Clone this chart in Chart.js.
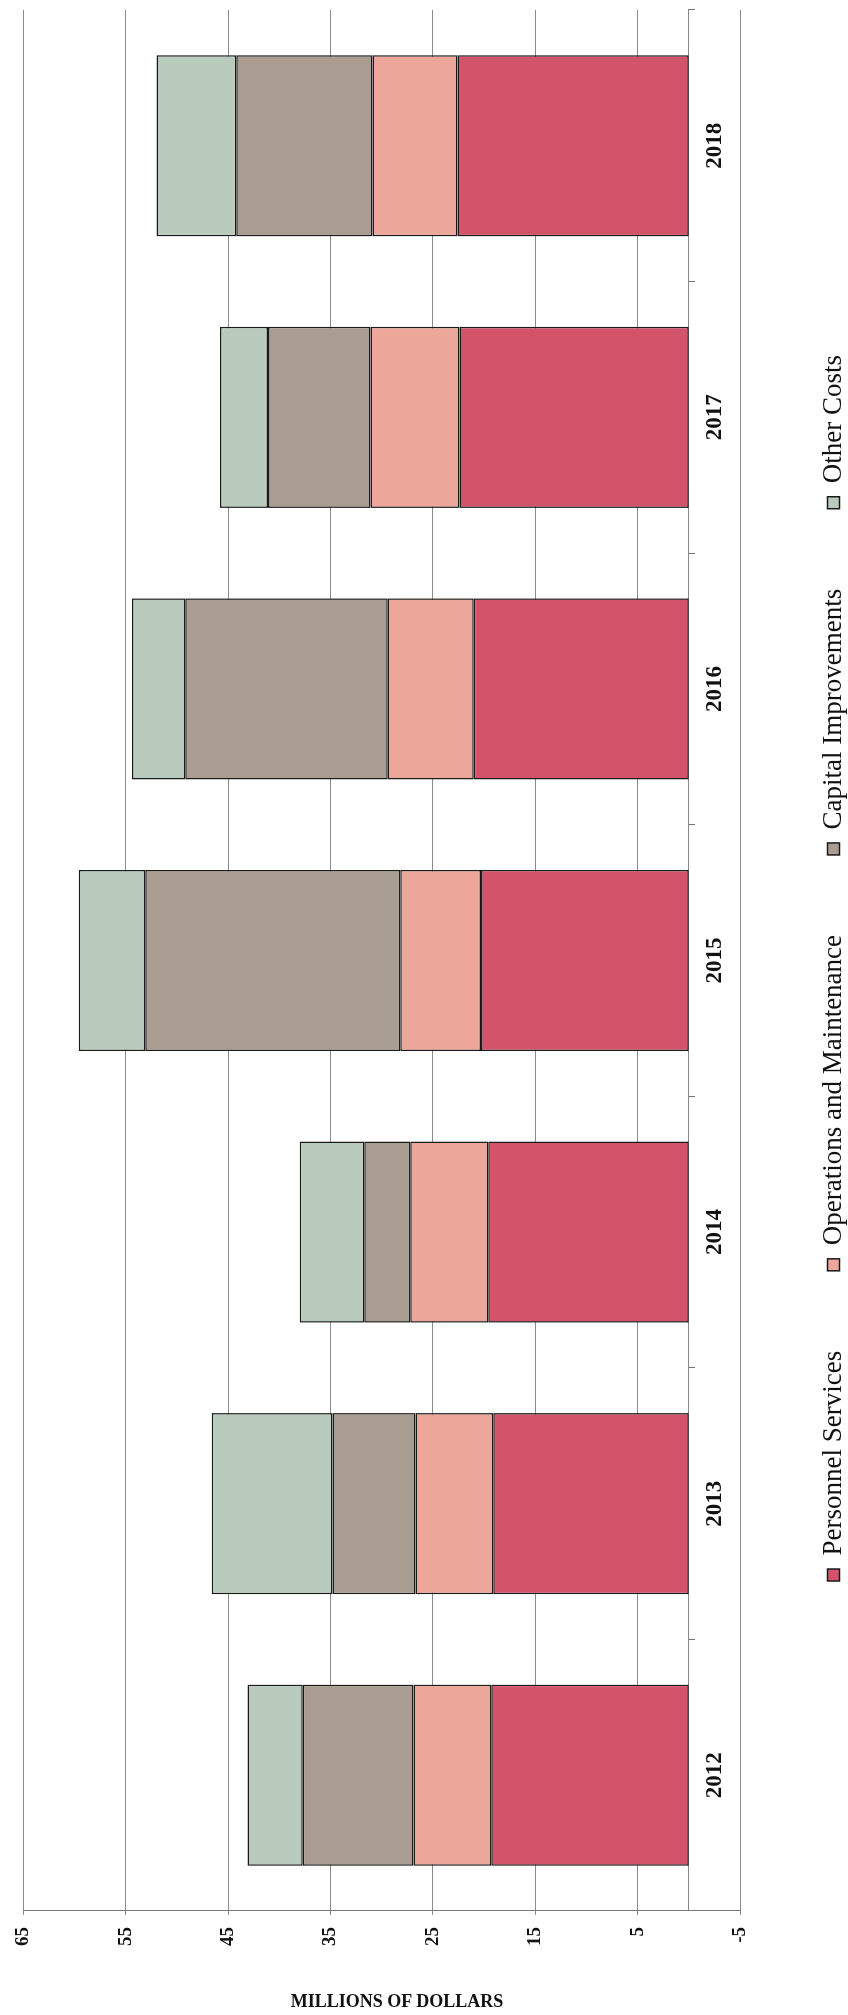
<!DOCTYPE html>
<html>
<head>
<meta charset="utf-8">
<script src="https://cdn.jsdelivr.net/npm/chart.js@4/dist/chart.umd.min.js"></script>
<style>
  html, body { margin: 0; padding: 0; background: #fff; overflow: hidden; }
  body { width: 848px; height: 2015px; position: relative; }
  /* chart is drawn upright, then turned a quarter turn to the left */
  #rot {
    position: absolute; left: 0; top: 0;
    width: 2015px; height: 857px;
    transform-origin: 0 0;
    transform: translate(0px, 2015px) rotate(-90deg);
  }
  #titel {
    position: absolute; left: 0; top: 1992px; width: 794px;
    text-align: center; font: bold 18px "Liberation Serif", serif;
    line-height: 18px; color: #111;
  }
</style>
</head>
<body>
<div id="rot"><canvas id="grafiek" width="2015" height="857"></canvas></div>
<div id="titel">MILLIONS OF DOLLARS</div>
<script>
// Jaren en bedragen (miljoenen dollars)
const jaren = ["2012", "2013", "2014", "2015", "2016", "2017", "2018"];
const personeel = [19.3, 19.1, 19.6, 20.3, 21.0, 22.4, 22.6];
const onderhoud = [7.6, 7.6, 7.6, 7.9, 8.4, 8.7, 8.3];
const investeringen = [10.8, 8.1, 4.5, 24.9, 19.8, 10.0, 13.3];
const overig = [5.4, 11.8, 6.3, 6.5, 5.2, 4.7, 7.8];

const asMin = -5;
const asMax = 65;
const asStap = 10;

const lettertype = "'Liberation Serif', 'Times New Roman', serif";

function reeks(label, data, kleur) {
  return {
    label: label,
    data: data,
    backgroundColor: kleur,
    borderColor: "#1a1a1a",
    borderWidth: 1.5,
    borderSkipped: false,
    barPercentage: 0.667,
    categoryPercentage: 1.0
  };
}

// legenda iets opschuiven zodat die onder het grafiekvlak gecentreerd staat
const legendaVerschuiving = {
  id: "legendaVerschuiving",
  afterLayout(chart) {
    if (chart.legend) {
      chart.legend.left = 89;
    }
  }
};

const ctx = document.getElementById("grafiek").getContext("2d");

new Chart(ctx, {
  type: "bar",
  data: {
    labels: jaren,
    datasets: [
      reeks("Personnel Services", personeel, "#d3536a"),
      reeks("Operations and Maintenance", onderhoud, "#eda69a"),
      reeks("Capital Improvements", investeringen, "#a99c90"),
      reeks("Other Costs", overig, "#b9cbbd")
    ]
  },
  plugins: [legendaVerschuiving],
  options: {
    responsive: false,
    animation: false,
    devicePixelRatio: 1,
    layout: { padding: { left: 0, right: 10, top: 19, bottom: 0 } },
    plugins: {
      tooltip: { enabled: false },
      legend: {
        position: "bottom",
        labels: {
          boxWidth: 12,
          boxHeight: 12,
          padding: 80,
          color: "#111",
          font: { family: lettertype, size: 27 }
        }
      }
    },
    scales: {
      x: {
        stacked: true,
        position: { y: 0 },
        grid: { drawOnChartArea: false, tickLength: 6, color: "#777" },
        border: { display: true, color: "#888", width: 1 },
        ticks: {
          padding: 6,
          color: "#111",
          font: { family: lettertype, size: 23, weight: "bold" }
        }
      },
      y: {
        stacked: true,
        min: asMin,
        max: asMax,
        afterFit: function (schaal) { schaal.width = 104; },
        grid: { color: "#8a8a8a", lineWidth: 1, tickLength: 4 },
        border: { display: true, color: "#777", width: 1 },
        ticks: {
          stepSize: asStap,
          padding: 12,
          color: "#111",
          font: { family: lettertype, size: 19, weight: "bold" }
        }
      }
    }
  }
});
</script>
</body>
</html>
